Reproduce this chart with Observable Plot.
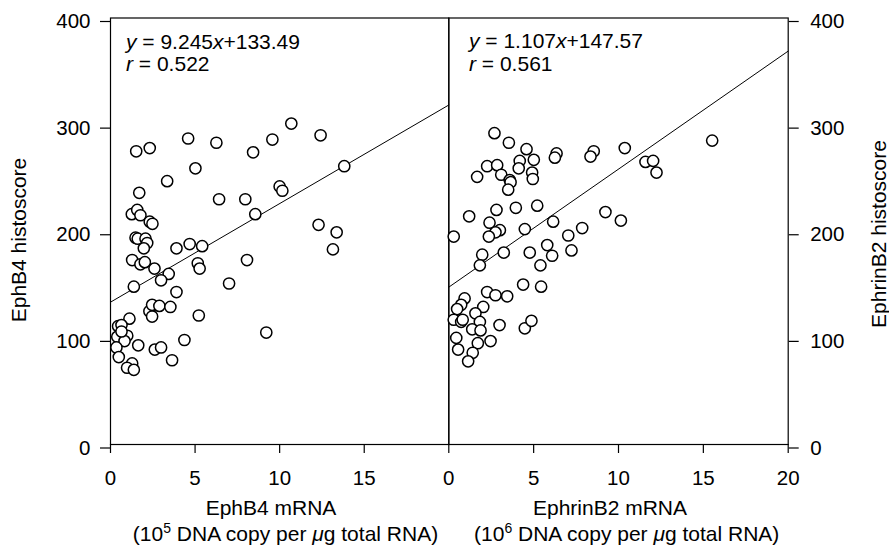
<!DOCTYPE html>
<html>
<head>
<meta charset="utf-8">
<script src="https://cdn.jsdelivr.net/npm/d3@7"></script>
<script src="https://cdn.jsdelivr.net/npm/@observablehq/plot@0.6"></script>
<style>
  body { margin: 0; background: white; }
  #wrap { position: relative; width: 889px; height: 550px; font-family: "Liberation Sans", Arial, Helvetica, sans-serif; color: black; }
  #wrap svg { position: absolute; left: 0; top: 0; }
  .t { position: absolute; font-size: 21px; line-height: 21px; white-space: nowrap; }
  .c { transform: translateX(-50%); }
  .rot { transform: translate(-50%, -50%) rotate(-90deg); }
</style>
</head>
<body>
<div id="wrap"></div>
<script>
// EphB4 panel: mRNA (10^5 copies/µg) vs EphB4 histoscore
const ephb4X = [1.52,2.32,4.59,6.26,8.43,9.57,10.69,12.42,5.02,3.35,1.70,13.82,10.00,10.16,6.42,7.97,8.56,1.26,1.58,1.77,2.32,2.48,12.30,13.37,1.48,1.61,2.07,2.17,3.90,4.68,5.42,13.15,1.97,8.07,1.28,1.77,2.03,2.60,3.44,2.99,5.16,5.27,1.38,7.01,3.90,2.30,2.46,2.89,3.54,2.46,5.22,1.12,0.45,0.65,0.40,0.99,0.83,0.35,1.64,2.62,2.99,4.37,9.21,0.49,1.28,0.98,1.38,3.64,0.65];
const ephb4Y = [275,278,287,283,274,286,301,290,259,247,236,261,242,238,230,230,216,216,220,215,209,207,206,199,194,193,193,189,184,188,186,183,184,173,173,169,171,165,160,154,170,165,148,151,143,125,131,130,129,120,121,118,111,112,101,102,97,91,93,89,91,98,105,82,76,72,70,79,106];
// EphrinB2 panel: mRNA (10^6 copies/µg) vs EphrinB2 histoscore
const ephrinX = [2.69,3.54,4.58,6.35,6.25,8.54,8.35,10.37,11.59,12.04,12.24,5.01,4.18,4.12,4.91,4.95,2.26,2.85,3.09,3.59,3.64,3.50,1.67,2.81,3.95,5.21,1.20,2.40,9.23,10.14,6.15,3.01,2.75,2.36,4.48,7.86,7.04,0.29,5.80,7.23,6.09,4.77,3.24,1.97,1.83,5.40,4.38,5.44,2.26,2.75,3.44,0.93,0.73,0.49,2.03,1.57,0.29,0.73,0.82,1.83,1.38,1.87,2.99,4.48,4.87,0.44,1.71,2.46,0.55,1.41,1.14,15.52];
const ephrinY = [292,283,277,273,269,275,270,278,265,266,255,267,266,259,255,249,261,262,253,248,246,239,251,220,222,224,214,208,218,210,209,201,199,195,202,203,196,195,187,182,177,180,180,178,168,168,150,148,143,140,139,137,131,127,129,123,117,115,117,115,108,107,112,109,116,100,95,97,89,86,78,285];
// Fitted lines as printed on the chart
const fitLeft = {slope: 9.245, intercept: 133.49, xUnit: 1};
const fitRight = {slope: 1.107, intercept: 147.57, xUnit: 10}; // equation uses 10^5 units, axis 10^6
const fitRange = [0, 20];
const yTicks = [0, 100, 200, 300, 400];
const xTicksLeft = [0, 5, 10, 15];
const xTicksRight = [0, 5, 10, 15, 20];

const leftPts = ephb4X.map((x, i) => ({x, y: ephb4Y[i]}));
const rightPts = ephrinX.map((x, i) => ({x, y: ephrinY[i]}));
const lineOf = f => fitRange.map(x => ({x, y: f.slope * f.xUnit * x + f.intercept}));

const font = '"Liberation Sans", Arial, Helvetica, sans-serif';
const common = {
  width: 889, height: 495, marginTop: 17.5, marginBottom: 51,
  y: {domain: [0, 400]},
  x: {domain: [0, 20]},
  style: {fontFamily: font, fontSize: "20px", background: "transparent", overflow: "visible", color: "black"}
};

function panel(pts, fit, xticks, side, ml, mr) {
  return Plot.plot({
    ...common, marginLeft: ml, marginRight: mr,
    marks: [
      Plot.frame({stroke: "black", strokeWidth: 1.2}),
      Plot.axisX({ticks: xticks, tickSize: 9, tickPadding: 17, label: null, fontSize: 20.5, strokeWidth: 1.2}),
      Plot.axisY({anchor: side, ticks: yTicks, tickSize: 10, tickPadding: side === "left" ? 10 : 12, dy: 3.5, label: null, fontSize: 20.5, strokeWidth: 1.2}),
      Plot.line(lineOf(fit), {x: "x", y: "y", stroke: "black", strokeWidth: 1}),
      Plot.dot(pts, {x: "x", y: "y", r: 5.6, fill: "white", stroke: "black", strokeWidth: 1.5})
    ]
  });
}

const wrap = document.getElementById("wrap");
wrap.append(panel(leftPts, fitLeft, xTicksLeft, "left", 110, 440.7));
wrap.append(panel(rightPts, fitRight, xTicksRight, "right", 448.3, 101.3));

const texts = [
  {html: "<i>y</i> = 9.245<i>x</i>+133.49", left: 126, top: 31.2, cls: "t"},
  {html: "<i>r</i> = 0.522", left: 126, top: 53.2, cls: "t"},
  {html: "<i>y</i> = 1.107<i>x</i>+147.57", left: 469, top: 30.2, cls: "t"},
  {html: "<i>r</i> = 0.561", left: 469, top: 52.7, cls: "t"},
  {html: "EphB4 mRNA", left: 271, top: 496.5, cls: "t c"},
  {html: "(10<sup style='font-size:14px;line-height:0'>5</sup> DNA copy per <i>μ</i>g total RNA)", left: 285.5, top: 523, cls: "t c"},
  {html: "EphrinB2 mRNA", left: 610, top: 496.5, cls: "t c"},
  {html: "(10<sup style='font-size:14px;line-height:0'>6</sup> DNA copy per <i>μ</i>g total RNA)", left: 626.7, top: 523, cls: "t c"},
  {html: "EphB4 histoscore", left: 18, top: 239.5, cls: "t rot"},
  {html: "EphrinB2 histoscore", left: 878, top: 233.5, cls: "t rot"}
];
for (const t of texts) {
  const d = document.createElement("div");
  d.className = t.cls;
  d.style.left = t.left + "px";
  d.style.top = t.top + "px";
  d.innerHTML = t.html;
  wrap.append(d);
}
</script>
</body>
</html>
